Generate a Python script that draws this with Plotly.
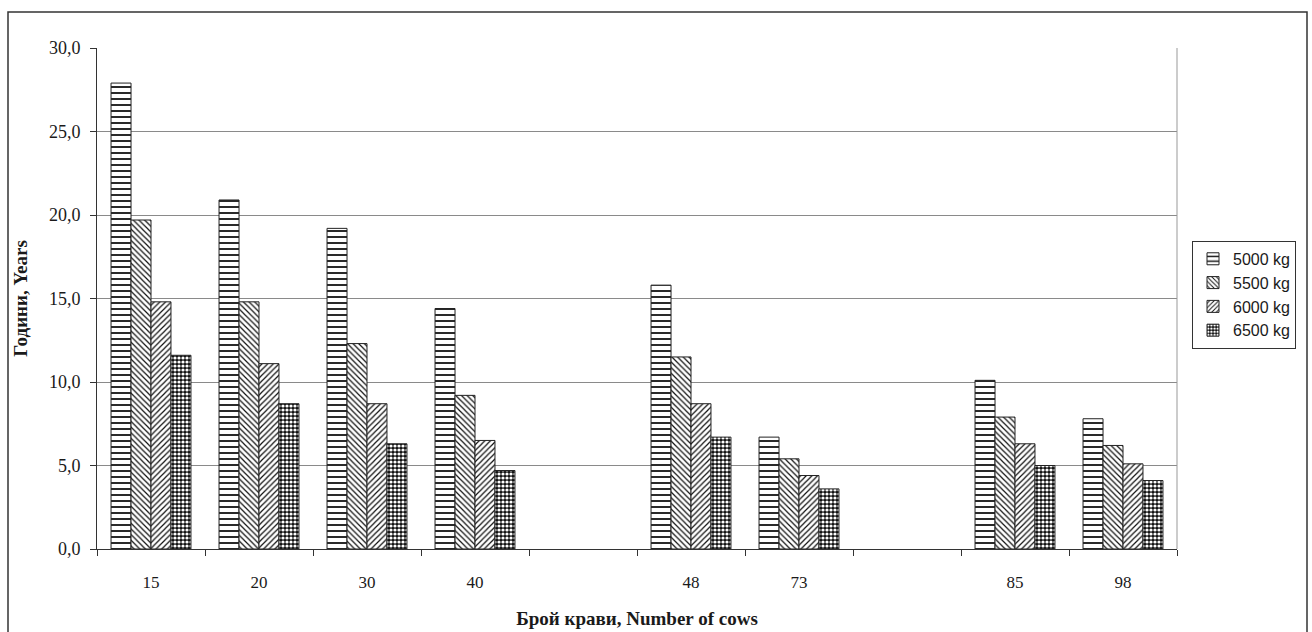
import plotly.graph_objects as go

categories = ["15", "20", "30", "40", " ", "48", "73", "  ", "85", "98"]
series_names = ["5000 kg", "5500 kg", "6000 kg", "6500 kg"]
v5000 = [27.9, 20.9, 19.2, 14.4, None, 15.8, 6.7, None, 10.1, 7.8]
v5500 = [19.7, 14.8, 12.3, 9.2, None, 11.5, 5.4, None, 7.9, 6.2]
v6000 = [14.8, 11.1, 8.7, 6.5, None, 8.7, 4.4, None, 6.3, 5.1]
v6500 = [11.6, 8.7, 6.3, 4.7, None, 6.7, 3.6, None, 5.0, 4.1]
y_ticks = [0, 5, 10, 15, 20, 25, 30]

patterns = [
    dict(shape="-", fgcolor="#111", bgcolor="white", size=6, solidity=0.3, fillmode="replace"),
    dict(shape="\\", fgcolor="#111", bgcolor="white", size=4, solidity=0.3, fillmode="replace"),
    dict(shape="/", fgcolor="#111", bgcolor="white", size=4, solidity=0.3, fillmode="replace"),
    dict(shape=".", fgcolor="white", bgcolor="#111", size=4, solidity=0.5, fillmode="replace"),
]

fig = go.Figure()
for name, vals, pat in zip(series_names, [v5000, v5500, v6000, v6500], patterns):
    fig.add_trace(go.Bar(
        x=categories, y=vals, name=name,
        marker=dict(color="white", pattern=pat, line=dict(color="#222", width=1)),
    ))

fig.update_layout(
    width=1312, height=632,
    margin=dict(l=97, r=135, t=48, b=83),
    paper_bgcolor="white", plot_bgcolor="white",
    barmode="group", bargap=0.26, bargroupgap=0,
    separators=", ",
    font=dict(family="Liberation Serif", size=17, color="#1a1a1a"),
    showlegend=True,
    legend=dict(
        x=1.0139, y=0.615, xanchor="left", yanchor="top",
        bordercolor="#333", borderwidth=1, bgcolor="white",
        font=dict(family="Liberation Sans", size=16, color="#1a1a1a"),
        itemwidth=30, tracegroupgap=0,
    ),
    xaxis=dict(
        type="category", categoryorder="array", categoryarray=categories,
        tickson="boundaries", ticks="outside", ticklen=6, tickcolor="#333",
        showline=True, linecolor="#333", linewidth=1, showgrid=False,
        tickfont=dict(family="Liberation Serif", size=17),
        ticklabelstandoff=18, automargin=False,
        title=dict(text="<b>Брой крави, Number of cows</b>", standoff=20,
                   font=dict(family="Liberation Serif", size=19)),
    ),
    yaxis=dict(
        range=[0, 30], tickvals=y_ticks, tickformat=".1f",
        ticks="outside", ticklen=6, tickcolor="#333",
        showline=True, linecolor="#333", linewidth=1,
        showgrid=True, gridcolor="#8a8a8a", gridwidth=1,
        tickfont=dict(family="Liberation Serif", size=18),
        ticklabelstandoff=6, automargin=False,
        title=dict(text="<b>Години, Years</b>", standoff=16,
                   font=dict(family="Liberation Serif", size=19)),
        zeroline=False,
    ),
    shapes=[
        dict(type="line", xref="paper", yref="paper", x0=1, x1=1, y0=0, y1=1,
             line=dict(color="#999", width=1)),
        dict(type="rect", xref="paper", yref="paper",
             x0=(8 - 97) / 1080, x1=(1307 - 97) / 1080,
             y0=-0.2, y1=(549 - 12) / 501,
             line=dict(color="#333", width=1.5), fillcolor="rgba(0,0,0,0)", layer="below"),
    ],
)

fig.write_html("out.html")
